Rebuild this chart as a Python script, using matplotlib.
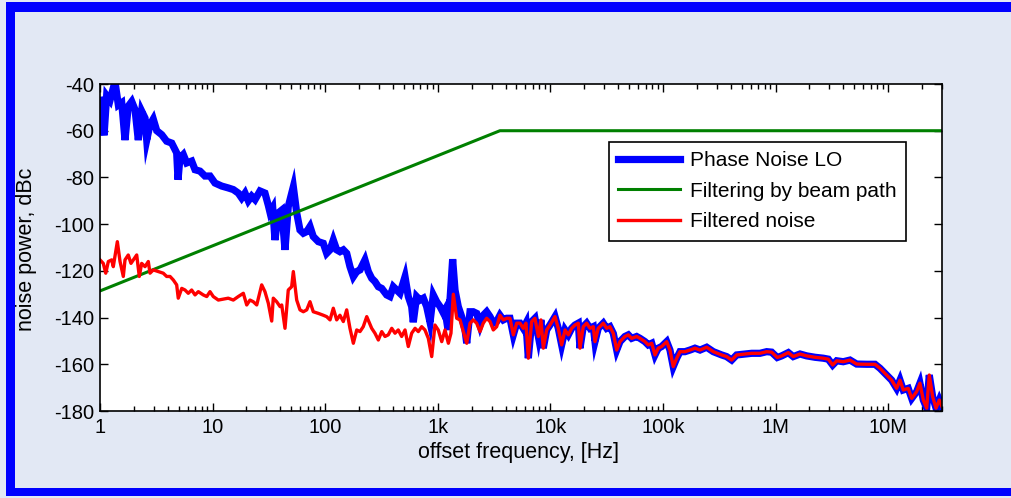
import numpy as np
import matplotlib
matplotlib.use("Agg")
import matplotlib.pyplot as plt
from matplotlib.patches import Rectangle
from matplotlib.ticker import FixedLocator, FixedFormatter, LogLocator, NullFormatter

plt.rcParams['font.family'] = ['Liberation Sans', 'DejaVu Sans']

# ---- data (frequencies given as log10(Hz), levels in dBc) ----
pn_logf = [0.0, 0.036, 0.059, 0.089, 0.133, 0.163, 0.193, 0.222, 0.251, 0.282, 0.311, 0.340, 0.370, 0.400, 0.415,
           0.444, 0.473, 0.504, 0.548, 0.592, 0.637, 0.681, 0.693, 0.710, 0.740, 0.770, 0.814, 0.844, 0.888, 0.932,
           0.977, 1.021, 1.081, 1.139, 1.184, 1.228, 1.258, 1.288, 1.317, 1.347, 1.377, 1.421, 1.465, 1.495, 1.510,
           1.534, 1.554, 1.583, 1.614, 1.643, 1.672, 1.717, 1.747, 1.776, 1.806, 1.836, 1.865, 1.894, 1.939, 1.983,
           2.013, 2.043, 2.072, 2.102, 2.131, 2.161, 2.191, 2.220, 2.250, 2.280, 2.309, 2.353, 2.383, 2.413, 2.442,
           2.472, 2.502, 2.546, 2.575, 2.605, 2.635, 2.664, 2.709, 2.738, 2.768, 2.782, 2.812, 2.842, 2.872, 2.901,
           2.931, 2.960, 2.990, 3.020, 3.049, 3.064, 3.091, 3.132, 3.153, 3.182, 3.212, 3.242, 3.257, 3.286, 3.315,
           3.345, 3.375, 3.404, 3.434, 3.464, 3.493, 3.523, 3.552, 3.582, 3.612, 3.641, 3.671, 3.701, 3.730, 3.759,
           3.783, 3.804, 3.834, 3.863, 3.893, 3.916, 3.937, 3.967, 3.996, 4.041, 4.070, 4.100, 4.130, 4.159, 4.189,
           4.218, 4.248, 4.263, 4.292, 4.322, 4.352, 4.381, 4.396, 4.425, 4.470, 4.500, 4.529, 4.559, 4.589, 4.618,
           4.662, 4.692, 4.722, 4.766, 4.796, 4.840, 4.869, 4.900, 4.929, 4.958, 4.988, 5.033, 5.062, 5.091, 5.122,
           5.151, 5.195, 5.240, 5.284, 5.329, 5.388, 5.447, 5.521, 5.565, 5.610, 5.654, 5.713, 5.788, 5.861, 5.921,
           5.965, 6.015, 6.054, 6.113, 6.157, 6.217, 6.276, 6.350, 6.424, 6.468, 6.507, 6.543, 6.601, 6.661, 6.720,
           6.809, 6.883, 6.927, 6.972, 7.031, 7.075, 7.105, 7.134, 7.178, 7.209, 7.253, 7.282, 7.312, 7.342, 7.365,
           7.395, 7.425, 7.454, 7.478]
pn_db = [-47, -62, -45, -47, -39, -49, -48, -64, -49.5, -47.5, -51, -64, -51.6, -54.6, -64,
         -57.4, -55, -60, -61.7, -64.5, -65.3, -69.5, -81, -71.7, -70.2, -73.8, -73, -76.7, -77.3, -79.4,
         -79.4, -82.4, -83.7, -84.5, -85.2, -86.7, -88.8, -86.7, -90, -88, -89.5, -85.8, -86.7, -92, -95,
         -93, -106.8, -95.2, -94, -111, -92.5, -84, -95.2, -102.5, -103.9, -103.2, -101, -105.3, -107.5, -108.2,
         -112.5, -111, -106.8, -111, -111.8, -111, -112.5, -118.2, -122.5, -120.3, -119.6, -115.3, -120.3, -123.2, -124.6,
         -126.8, -127.5, -130.3, -131, -126.8, -128.2, -129.6, -122.5, -131, -135.3, -142, -131, -132.5, -131.7, -135.3,
         -142, -130.3, -133.2, -135.3, -138, -136.7, -145.3, -115, -128.2, -135.3, -139.6, -145.3, -151, -137.5, -137.5,
         -138.2, -143.2, -139, -137.5, -139.6, -142.4, -141.7, -139, -141, -140.3, -140.3, -147.4, -142.4, -142.4, -144.6,
         -142.4, -157.4, -141.7, -140.3, -148.1, -141, -153.1, -145.3, -143.2, -139.6, -144.6, -151.7, -145.3, -147.4, -144.6,
         -143.2, -142.4, -153.1, -143.9, -142.4, -144.6, -143.9, -150.3, -144.6, -142.4, -144.6, -143.9, -146.8, -153.9, -150.3,
         -148.1, -147.4, -148.9, -148.1, -148.9, -150.3, -151.7, -151, -156, -153.1, -152.4, -150.3, -153.9, -161, -157.4,
         -154.6, -154.6, -153.9, -153.1, -153.9, -152.7, -154.6, -156, -156.7, -158.2, -156, -155.7, -155.3, -155.3, -154.6,
         -154.8, -157.1, -156.4, -155, -156.7, -155.6, -156.4, -157, -157.4, -157.8, -160.3, -158.5, -158.9, -158.2, -159.9,
         -160, -160, -161.7, -163.9, -166.8, -170.3, -166.8, -171, -170.3, -174.6, -171.7, -168.1, -175.3, -178.8, -164.6,
         -173.9, -178.8, -175.3, -178.1]

filter_logf = [0.0, 3.552, 7.478]
filter_db = [-128.6, -60.0, -60.0]

# filtered noise below ~3.5 kHz (above that it coincides with the LO phase noise)
fn_low_logf = [0.0, 0.029, 0.051, 0.074, 0.104, 0.118, 0.154, 0.178, 0.207, 0.222, 0.251, 0.275, 0.296, 0.326, 0.349,
               0.370, 0.400, 0.429, 0.444, 0.473, 0.518, 0.562, 0.592, 0.622, 0.651, 0.681, 0.695, 0.726, 0.755, 0.784,
               0.814, 0.844, 0.873, 0.917, 0.948, 0.977, 1.006, 1.051, 1.095, 1.139, 1.184, 1.228, 1.273, 1.303, 1.332,
               1.361, 1.392, 1.436, 1.465, 1.495, 1.525, 1.539, 1.569, 1.599, 1.614, 1.643, 1.672, 1.702, 1.717, 1.747,
               1.776, 1.806, 1.836, 1.865, 1.894, 1.939, 1.983, 2.013, 2.043, 2.072, 2.102, 2.131, 2.161, 2.191, 2.220,
               2.250, 2.280, 2.309, 2.338, 2.369, 2.413, 2.442, 2.472, 2.502, 2.531, 2.560, 2.591, 2.620, 2.649, 2.679,
               2.709, 2.738, 2.768, 2.798, 2.827, 2.857, 2.886, 2.916, 2.946, 2.975, 3.004, 3.035, 3.064, 3.094, 3.117,
               3.138, 3.168, 3.197, 3.227, 3.257, 3.286, 3.315, 3.345, 3.375, 3.404, 3.434, 3.464, 3.493, 3.523]
fn_low_db = [-115.3, -116.8, -121, -116, -115.3, -118.2, -107.5, -116, -122.4, -115.3, -113.2, -116.8, -115.3, -113.2, -122.4,
             -116.8, -118.2, -116, -121, -119.6, -120.3, -121, -122.4, -122.4, -123.9, -126, -131.7, -127.5, -128.2, -129.6,
             -128.2, -130.3, -128.9, -130.3, -131, -128.9, -131, -132.5, -132.1, -131.7, -132.5, -131, -129.6, -134.6, -132.5,
             -133.2, -134.6, -126, -128.9, -133.9, -141.5, -131.7, -133.2, -135.3, -134.6, -144.6, -128.2, -126.8, -120.3, -132.5,
             -136.7, -137.5, -136.7, -133.2, -137.5, -138.2, -139, -139.6, -141, -136, -141, -139, -141.7, -136.7, -144.6,
             -151, -145.3, -146, -143.9, -139.6, -144.6, -146.7, -149.6, -146, -148.1, -147.4, -144.6, -146.7, -145.3, -148.1,
             -145.3, -152.4, -146.7, -144.6, -146, -143.9, -145.3, -148.9, -156.7, -143.2, -145.3, -150.3, -145.3, -151, -146.7,
             -130, -140.3, -141, -146, -151, -142.4, -141, -142.4, -146, -142.4, -140.3, -141.7, -145.3, -143.9]

fn_logf = fn_low_logf + [f for f in pn_logf if f >= 3.55]
fn_db = fn_low_db + [d for f, d in zip(pn_logf, pn_db) if f >= 3.55]

x_ticks = [1, 10, 100, 1e3, 1e4, 1e5, 1e6, 1e7]
x_labels = ['1', '10', '100', '1k', '10k', '100k', '1M', '10M']
y_ticks = [-180, -160, -140, -120, -100, -80, -60, -40]

# ---- figure ----
W, H = 1011, 498
fig = plt.figure(figsize=(W / 100, H / 100), dpi=100)
fig.patch.set_facecolor('#e2e8f4')

def px_rect(x0, y0, x1, y1, color):
    fig.patches.append(Rectangle((x0 / W, 1 - y1 / H), (x1 - x0) / W, (y1 - y0) / H,
                                 transform=fig.transFigure, facecolor=color, edgecolor='none', zorder=0))

border = '#0000ff'
px_rect(6, 2, W, 12, border)
px_rect(6, 2, 15, 496, border)
px_rect(6, 488, W, 496, border)

ax = fig.add_axes([100 / W, 1 - 411 / H, 842 / W, 327 / H])
ax.set_facecolor('white')

ax.plot(10 ** np.array(pn_logf), pn_db, color='#0000ff', lw=5.2, label='Phase Noise LO', solid_joinstyle='miter')
ax.plot(10 ** np.array(filter_logf), filter_db, color='#008000', lw=2.2, label='Filtering by beam path')
ax.plot(10 ** np.array(fn_logf), fn_db, color='#ff0000', lw=2.4, label='Filtered noise')

ax.set_xscale('log')
ax.set_xlim(1, 10 ** 7.478)
ax.set_ylim(-180, -40)
ax.xaxis.set_major_locator(FixedLocator(x_ticks))
ax.xaxis.set_major_formatter(FixedFormatter(x_labels))
ax.xaxis.set_minor_locator(LogLocator(base=10, subs=np.arange(2, 10), numticks=20))
ax.xaxis.set_minor_formatter(NullFormatter())
ax.set_yticks(y_ticks)
ax.set_yticklabels([str(v) for v in y_ticks])

ax.tick_params(which='both', direction='in', top=True, right=True, labelsize=14.5, width=1.0, color='black')
ax.tick_params(which='major', length=6)
ax.tick_params(axis='x', which='major', pad=5)
ax.tick_params(axis='y', which='major', pad=4)
ax.tick_params(which='minor', length=3.5)
for s in ax.spines.values():
    s.set_linewidth(1.2)

ax.set_xlabel('offset frequency, [Hz]', fontsize=15.5, va='center')
ax.xaxis.set_label_coords(0.497, -0.128)
ax.set_ylabel('noise power, dBc', fontsize=15.5, va='center')
ax.yaxis.set_label_coords(-0.087, 0.495)

leg = ax.legend(loc='upper right', bbox_to_anchor=(0.957, 0.823), borderaxespad=0, fontsize=15,
                handlelength=3.0, handletextpad=0.45, labelspacing=0.55, borderpad=0.45,
                fancybox=False, framealpha=1, edgecolor='black')
leg.get_frame().set_linewidth(1.2)

fig.savefig('out.png', dpi=100, facecolor=fig.get_facecolor())
